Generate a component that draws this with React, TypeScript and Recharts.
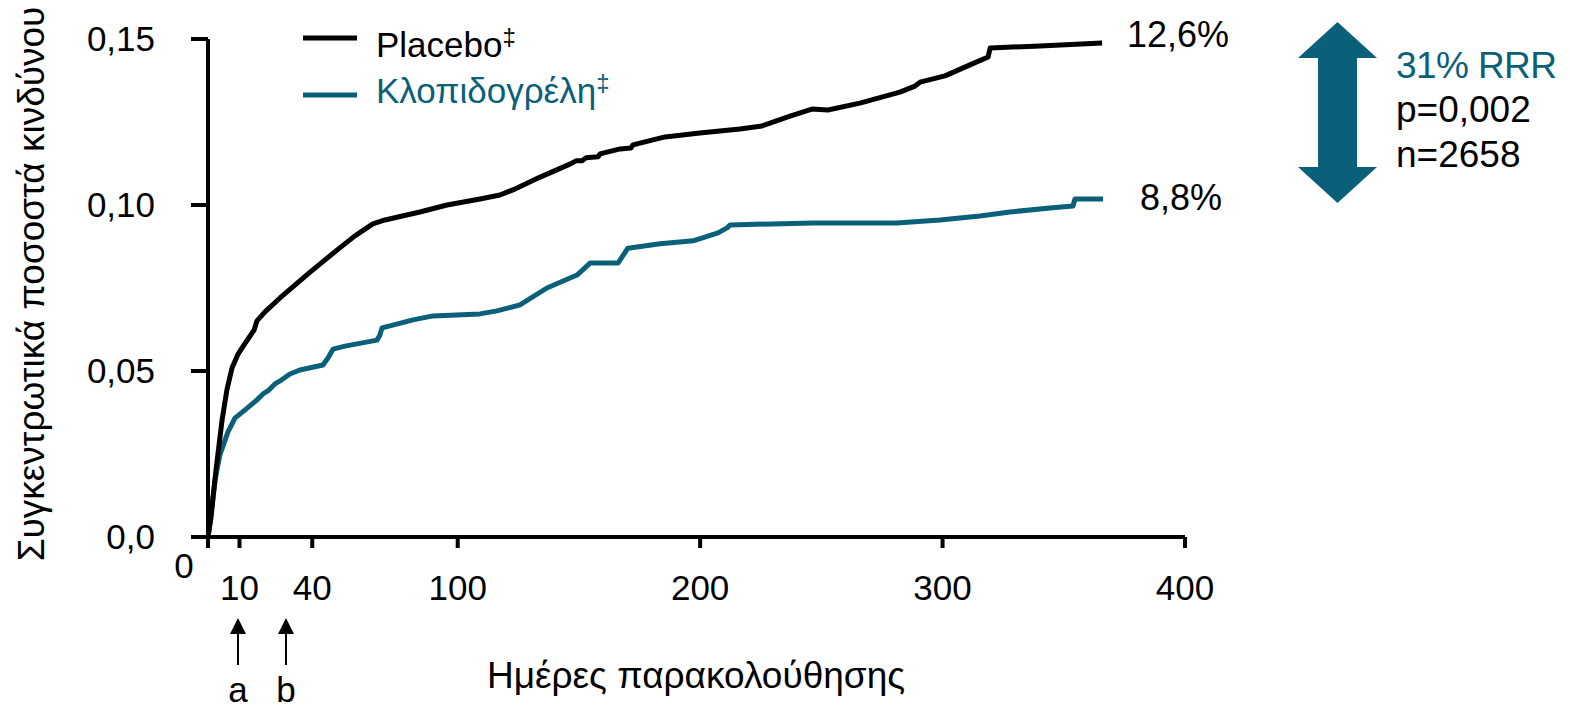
import React from 'react';
import { LineChart, Line, XAxis, YAxis } from 'recharts';

// Kaplan-Meier style cumulative hazard curves (days of follow-up vs cumulative risk)
const placeboDays = [-3, -1.8, 0.3, 2.8, 4.8, 6.9, 9.4, 11.8, 14.3, 16.0, 17.2, 20.5, 26.7, 39.1, 50.2, 57.6, 65.0, 70.0, 84.4, 95.6, 109.2, 117.4, 123.6, 134.0, 146.3, 148.8, 151.3, 152.9, 157.9, 158.7, 167.0, 171.5, 172.3, 185.5, 199.9, 216.4, 225.5, 237.1, 246.1, 252.7, 265.9, 282.4, 288.6, 290.7, 301.0, 311.3, 318.8, 319.6, 340.2, 365.8];
const placeboRisk = [0, 0.0057, 0.0202, 0.0352, 0.0443, 0.0509, 0.0551, 0.0578, 0.0605, 0.0623, 0.0651, 0.0678, 0.072, 0.0798, 0.0864, 0.0907, 0.0943, 0.0955, 0.0979, 0.1, 0.1018, 0.103, 0.1048, 0.1084, 0.1123, 0.1133, 0.1133, 0.1142, 0.1145, 0.1154, 0.1169, 0.1172, 0.1181, 0.1205, 0.1217, 0.1229, 0.1238, 0.1268, 0.1289, 0.1286, 0.1307, 0.134, 0.1358, 0.137, 0.1389, 0.1422, 0.1446, 0.1473, 0.1479, 0.1488];

const clopDays = [-3, -1.8, -0.1, 1.9, 5.2, 8.1, 12.3, 17.2, 19.7, 21.7, 24.6, 26.7, 30.8, 34.9, 44.4, 46.5, 48.6, 53.5, 66.7, 67.9, 68.8, 81.6, 89.8, 109.2, 116.2, 125.7, 136.8, 149.2, 154.6, 166.1, 170.2, 183.5, 197.1, 207.4, 211.1, 212.4, 246.6, 281.2, 298.9, 315.4, 327.8, 344.3, 353.8, 354.6, 366.2];
const clopRisk = [0, 0.0066, 0.0172, 0.0247, 0.0316, 0.0358, 0.0383, 0.0413, 0.0431, 0.044, 0.0461, 0.047, 0.0491, 0.0503, 0.0518, 0.0539, 0.0566, 0.0575, 0.0593, 0.0608, 0.063, 0.0654, 0.0666, 0.0672, 0.0681, 0.0699, 0.075, 0.0789, 0.0825, 0.0825, 0.087, 0.0883, 0.0892, 0.0916, 0.0931, 0.094, 0.0946, 0.0946, 0.0955, 0.0967, 0.0979, 0.0991, 0.0997, 0.1018, 0.1018];

const xTicks = [-3, 10, 40, 100, 200, 300, 400];
const xTickLabels = ['0', '10', '40', '100', '200', '300', '400'];
const yTicks = [0, 0.05, 0.1, 0.15];
const yTickLabels = ['0,0', '0,05', '0,10', '0,15'];

const seriesNames = ['Placebo', 'Κλοπιδογρέλη'];
const endLabels = ['12,6%', '8,8%'];
const statLines = ['31% RRR', 'p=0,002', 'n=2658'];
const xTitle = 'Ημέρες παρακολούθησης';
const yTitle = 'Συγκεντρωτικά ποσοστά κινδύνου';
const markerLabels = ['a', 'b'];

const placeboData = placeboDays.map((d, i) => ({ day: d, risk: placeboRisk[i] }));
const clopData = clopDays.map((d, i) => ({ day: d, risk: clopRisk[i] }));

const FONT = '"Liberation Sans", Arial, sans-serif';
const TEAL = '#0a6079';
const FS = 35;

const XTick = (props: any) => {
  const { x, y, payload } = props;
  const idx = xTicks.indexOf(payload.value);
  const label = idx >= 0 ? xTickLabels[idx] : '';
  if (payload.value === -3) {
    return (
      <text x={x - 24} y={y + 30} textAnchor="middle" fontSize={FS} fontFamily={FONT} fill="#000">
        {label}
      </text>
    );
  }
  return (
    <text x={x} y={y + 52} textAnchor="middle" fontSize={FS} fontFamily={FONT} fill="#000">
      {label}
    </text>
  );
};

const YTick = (props: any) => {
  const { x, y, payload } = props;
  const idx = yTicks.findIndex((t) => Math.abs(t - payload.value) < 1e-9);
  const label = idx >= 0 ? yTickLabels[idx] : '';
  return (
    <text x={x - 36} y={y + 12} textAnchor="end" fontSize={FS} fontFamily={FONT} fill="#000">
      {label}
    </text>
  );
};

export default function App() {
  return (
    <div style={{ position: 'absolute', left: 0, top: 0, width: 1570, height: 710, background: '#fff' }}>
      <LineChart
        width={1570}
        height={710}
        margin={{ top: 39, right: 385, bottom: 143, left: 148 }}
      >
        <XAxis
          dataKey="day"
          type="number"
          domain={[-3, 400]}
          ticks={xTicks}
          interval={0}
          height={30}
          tickSize={11}
          tickMargin={0}
          axisLine={{ stroke: '#000', strokeWidth: 4 }}
          tickLine={{ stroke: '#000', strokeWidth: 4 }}
          tick={<XTick />}
          allowDataOverflow
        />
        <YAxis
          type="number"
          domain={[0, 0.15]}
          ticks={yTicks}
          interval={0}
          width={60}
          tickSize={17}
          tickMargin={0}
          axisLine={{ stroke: '#000', strokeWidth: 4 }}
          tickLine={{ stroke: '#000', strokeWidth: 4 }}
          tick={<YTick />}
          allowDataOverflow
        />
        <Line
          data={clopData}
          dataKey="risk"
          type="linear"
          stroke={TEAL}
          strokeWidth={5}
          dot={false}
          activeDot={false}
          isAnimationActive={false}
          strokeLinejoin="round"
        />
        <Line
          data={placeboData}
          dataKey="risk"
          type="linear"
          stroke="#000"
          strokeWidth={5}
          dot={false}
          activeDot={false}
          isAnimationActive={false}
          strokeLinejoin="round"
        />
      </LineChart>
      <svg
        width={1570}
        height={710}
        style={{ position: 'absolute', left: 0, top: 0, pointerEvents: 'none' }}
        fontFamily={FONT}
      >
        {/* legend */}
        <line x1={303} x2={357} y1={38} y2={38} stroke="#000" strokeWidth={5} />
        <text x={376} y={57} fontSize={35} fill="#000">
          {seriesNames[0]}
          <tspan fontSize={24} dy={-12}>‡</tspan>
        </text>
        <line x1={303} x2={357} y1={95} y2={95} stroke={TEAL} strokeWidth={5} />
        <text x={376} y={103} fontSize={35} fill={TEAL}>
          {seriesNames[1]}
          <tspan fontSize={24} dy={-12}>‡</tspan>
        </text>

        {/* end labels */}
        <text x={1127} y={47} fontSize={36} fill="#000">{endLabels[0]}</text>
        <text x={1140} y={210} fontSize={36} fill="#000">{endLabels[1]}</text>

        {/* double arrow */}
        <polygon
          points="1337.5,22 1377,58 1357,58 1357,167 1377,167 1337.5,203 1298,167 1318,167 1318,58 1298,58"
          fill={TEAL}
        />
        <text x={1396} y={78} fontSize={37} fill={TEAL} textLength={161} lengthAdjust="spacing">{statLines[0]}</text>
        <text x={1396} y={122} fontSize={37} fill="#000">{statLines[1]}</text>
        <text x={1396} y={167} fontSize={37} fill="#000">{statLines[2]}</text>

        {/* axis titles */}
        <text x={696} y={688} fontSize={37} textAnchor="middle" fill="#000">{xTitle}</text>
        <text
          x={0}
          y={0}
          fontSize={37}
          textAnchor="middle"
          fill="#000"
          transform="translate(44,284) rotate(-90)"
        >
          {yTitle}
        </text>

        {/* a / b markers */}
        {markerLabels.map((lab, i) => {
          const cx = i === 0 ? 238 : 286;
          return (
            <g key={lab}>
              <line x1={cx} x2={cx} y1={630} y2={665} stroke="#000" strokeWidth={2} />
              <polygon points={`${cx},618 ${cx + 8},634 ${cx - 8},634`} fill="#000" />
              <text x={cx} y={702} fontSize={FS} textAnchor="middle" fill="#000">{lab}</text>
            </g>
          );
        })}
      </svg>
    </div>
  );
}
